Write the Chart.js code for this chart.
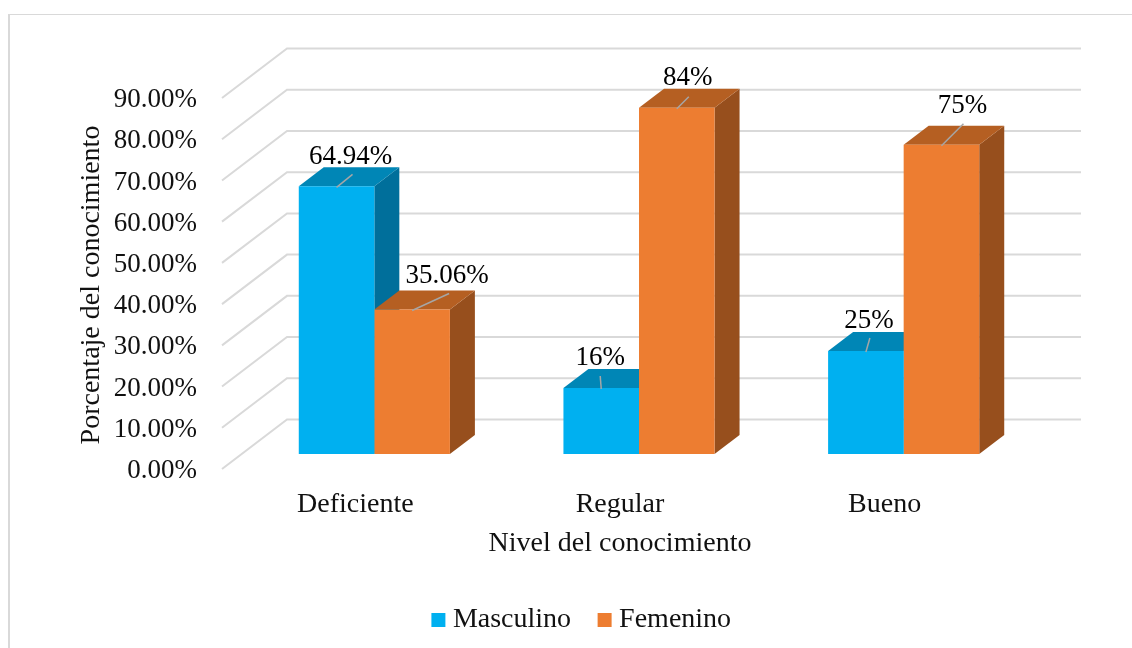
<!DOCTYPE html>
<html lang="es">
<head>
<meta charset="utf-8">
<title>Nivel del conocimiento</title>
<script src="https://cdn.jsdelivr.net/npm/chart.js@4"></script>
<style>
    html, body { margin: 0; padding: 0; background: #fff; overflow: hidden; }
    #frame { position: absolute; left: 8px; top: 14px; width: 1124px; height: 634px;
             border-left: 2px solid #d9d9d9; border-top: 1px solid #d9d9d9; box-sizing: border-box; }
    #kchart { position: absolute; left: 0; top: 0; }
</style>
</head>
<body>
<div id="frame"></div>
<canvas id="kchart" width="1132" height="648"></canvas>
<script>
const categories = ['Deficiente', 'Regular', 'Bueno'];
const masculino = [64.94, 16, 25];
const femenino = [35.06, 84, 75];
const masculinoLabels = ['64.94%', '16%', '25%'];
const femeninoLabels = ['35.06%', '84%', '75%'];
const yTicks = [0, 10, 20, 30, 40, 50, 60, 70, 80, 90];

const FONT = '"Liberation Serif", "Times New Roman", serif';
const FONT_SIZE = 28;
const VALUE_SIZE = 27;
const TEXT = '#111';
const GRID = '#d9d9d9';

// fake 3D: how far the box goes back, and where the walls sit from the bars
const DEPTH_X = 25, DEPTH_Y = 19;
const WALL_BACK_X = 45, WALL_BACK_Y = 34.5;
const WALL_FRONT_X = 20, WALL_FRONT_Y = 15;

// hand placed data labels: [label centre dx, dy, leader end dx, dy] from the top centre of the bar
const labelPlace = [
    [[14, -29, 16, -12], [-1, -30, -1, -12], [3, -30, 4, -13]],
    [[35, -34, 37, -16], [11, -30, 12, -11], [21, -39, 22, -21]]
];
const faceColors = [
    { side: '#006f9b', top: '#0086b6' },
    { side: '#974f1d', top: '#b55f22' }
];

function poly(ctx, pts, color) {
    ctx.fillStyle = color;
    ctx.beginPath();
    pts.forEach(function(p, i) {
        if (i == 0) ctx.moveTo(p[0], p[1]);
        else ctx.lineTo(p[0], p[1]);
    });
    ctx.closePath();
    ctx.fill();
}

const walls = {
    id: 'walls',
    afterLayout(chart) {
        // legend is centred under the plot and axis title, not under the canvas
        chart.legend.left += 97;
    },
    beforeDatasetsDraw(chart) {
        let ctx = chart.ctx, sx = chart.scales.x, sy = chart.scales.y;
        ctx.save();
        ctx.strokeStyle = GRID;
        ctx.lineWidth = 2;
        yTicks.forEach(function(v) {
            let py = sy.getPixelForValue(v);
            ctx.beginPath();
            ctx.moveTo(sx.left - WALL_FRONT_X, py + WALL_FRONT_Y);
            ctx.lineTo(sx.left + WALL_BACK_X, py - WALL_BACK_Y);
            ctx.lineTo(sx.right + WALL_BACK_X, py - WALL_BACK_Y);
            ctx.stroke();
        });
        // side and top of each box, the front faces are the real bars
        chart.data.datasets.forEach(function(ds, d) {
            chart.getDatasetMeta(d).data.forEach(function(bar) {
                let p = bar.getProps(['x', 'y', 'base', 'width'], true);
                let l = p.x - p.width / 2, r = p.x + p.width / 2;
                poly(ctx, [[r, p.y], [r + DEPTH_X, p.y - DEPTH_Y], [r + DEPTH_X, p.base - DEPTH_Y], [r, p.base]], faceColors[d].side);
                poly(ctx, [[l, p.y], [l + DEPTH_X, p.y - DEPTH_Y], [r + DEPTH_X, p.y - DEPTH_Y], [r, p.y]], faceColors[d].top);
            });
        });
        ctx.restore();
    },
    afterDatasetsDraw(chart) {
        let ctx = chart.ctx;
        let texts = [masculinoLabels, femeninoLabels];
        ctx.save();
        ctx.font = VALUE_SIZE + 'px ' + FONT;
        ctx.textAlign = 'center';
        ctx.textBaseline = 'middle';
        chart.data.datasets.forEach(function(ds, d) {
            chart.getDatasetMeta(d).data.forEach(function(bar, i) {
                let p = bar.getProps(['x', 'y'], true);
                let pl = labelPlace[d][i];
                ctx.strokeStyle = '#a6a6a6';
                ctx.lineWidth = 1.5;
                ctx.beginPath();
                ctx.moveTo(p.x, p.y + 1);
                ctx.lineTo(p.x + pl[2], p.y + pl[3]);
                ctx.stroke();
                ctx.fillStyle = '#000';
                ctx.fillText(texts[d][i], p.x + pl[0], p.y + pl[1]);
            });
        });
        // axis titles sit off centre in the original, so they are placed here
        ctx.font = FONT_SIZE + 'px ' + FONT;
        ctx.fillStyle = TEXT;
        ctx.fillText('Nivel del conocimiento', 620, 544);
        ctx.translate(92, 285);
        ctx.rotate(-Math.PI / 2);
        ctx.fillText('Porcentaje del conocimiento', 0, 0);
        ctx.restore();
    }
};

let ctx = document.getElementById('kchart').getContext('2d');
let chart = new Chart(ctx, {
    type: 'bar',
    data: {
        labels: categories,
        datasets: [
            { label: 'Masculino', data: masculino, backgroundColor: '#00b0f0' },
            { label: 'Femenino', data: femenino, backgroundColor: '#ed7d31' }
        ]
    },
    plugins: [walls],
    options: {
        responsive: false,
        animation: false,
        layout: { padding: { left: 36, right: 96, top: 83, bottom: 15 } },
        datasets: { bar: { categoryPercentage: 0.571, barPercentage: 1 } },
        scales: {
            x: {
                grid: { display: false },
                border: { display: false },
                ticks: {
                    color: TEXT,
                    font: { family: FONT, size: FONT_SIZE },
                    padding: 26,
                    labelOffset: -19,
                    maxRotation: 0
                },
                afterFit(scale) { scale.height = 119; }
            },
            y: {
                min: 0,
                max: 90,
                grid: { display: false },
                border: { display: false },
                afterBuildTicks(scale) { scale.ticks = yTicks.map(function(v) { return { value: v }; }); },
                ticks: {
                    color: TEXT,
                    font: { family: FONT, size: VALUE_SIZE },
                    padding: 37,
                    labelOffset: 17,
                    callback: function(v) { return v.toFixed(2) + '%'; }
                },
                afterFit(scale) { scale.width = 206; }
            }
        },
        plugins: {
            tooltip: { enabled: false },
            legend: {
                position: 'bottom',
                maxHeight: 60,
                labels: {
                    color: TEXT,
                    font: { family: FONT, size: FONT_SIZE },
                    usePointStyle: true,
                    pointStyle: 'rect',
                    boxWidth: 1,
                    boxHeight: 14,
                    padding: 33
                }
            }
        }
    }
});
</script>
</body>
</html>
